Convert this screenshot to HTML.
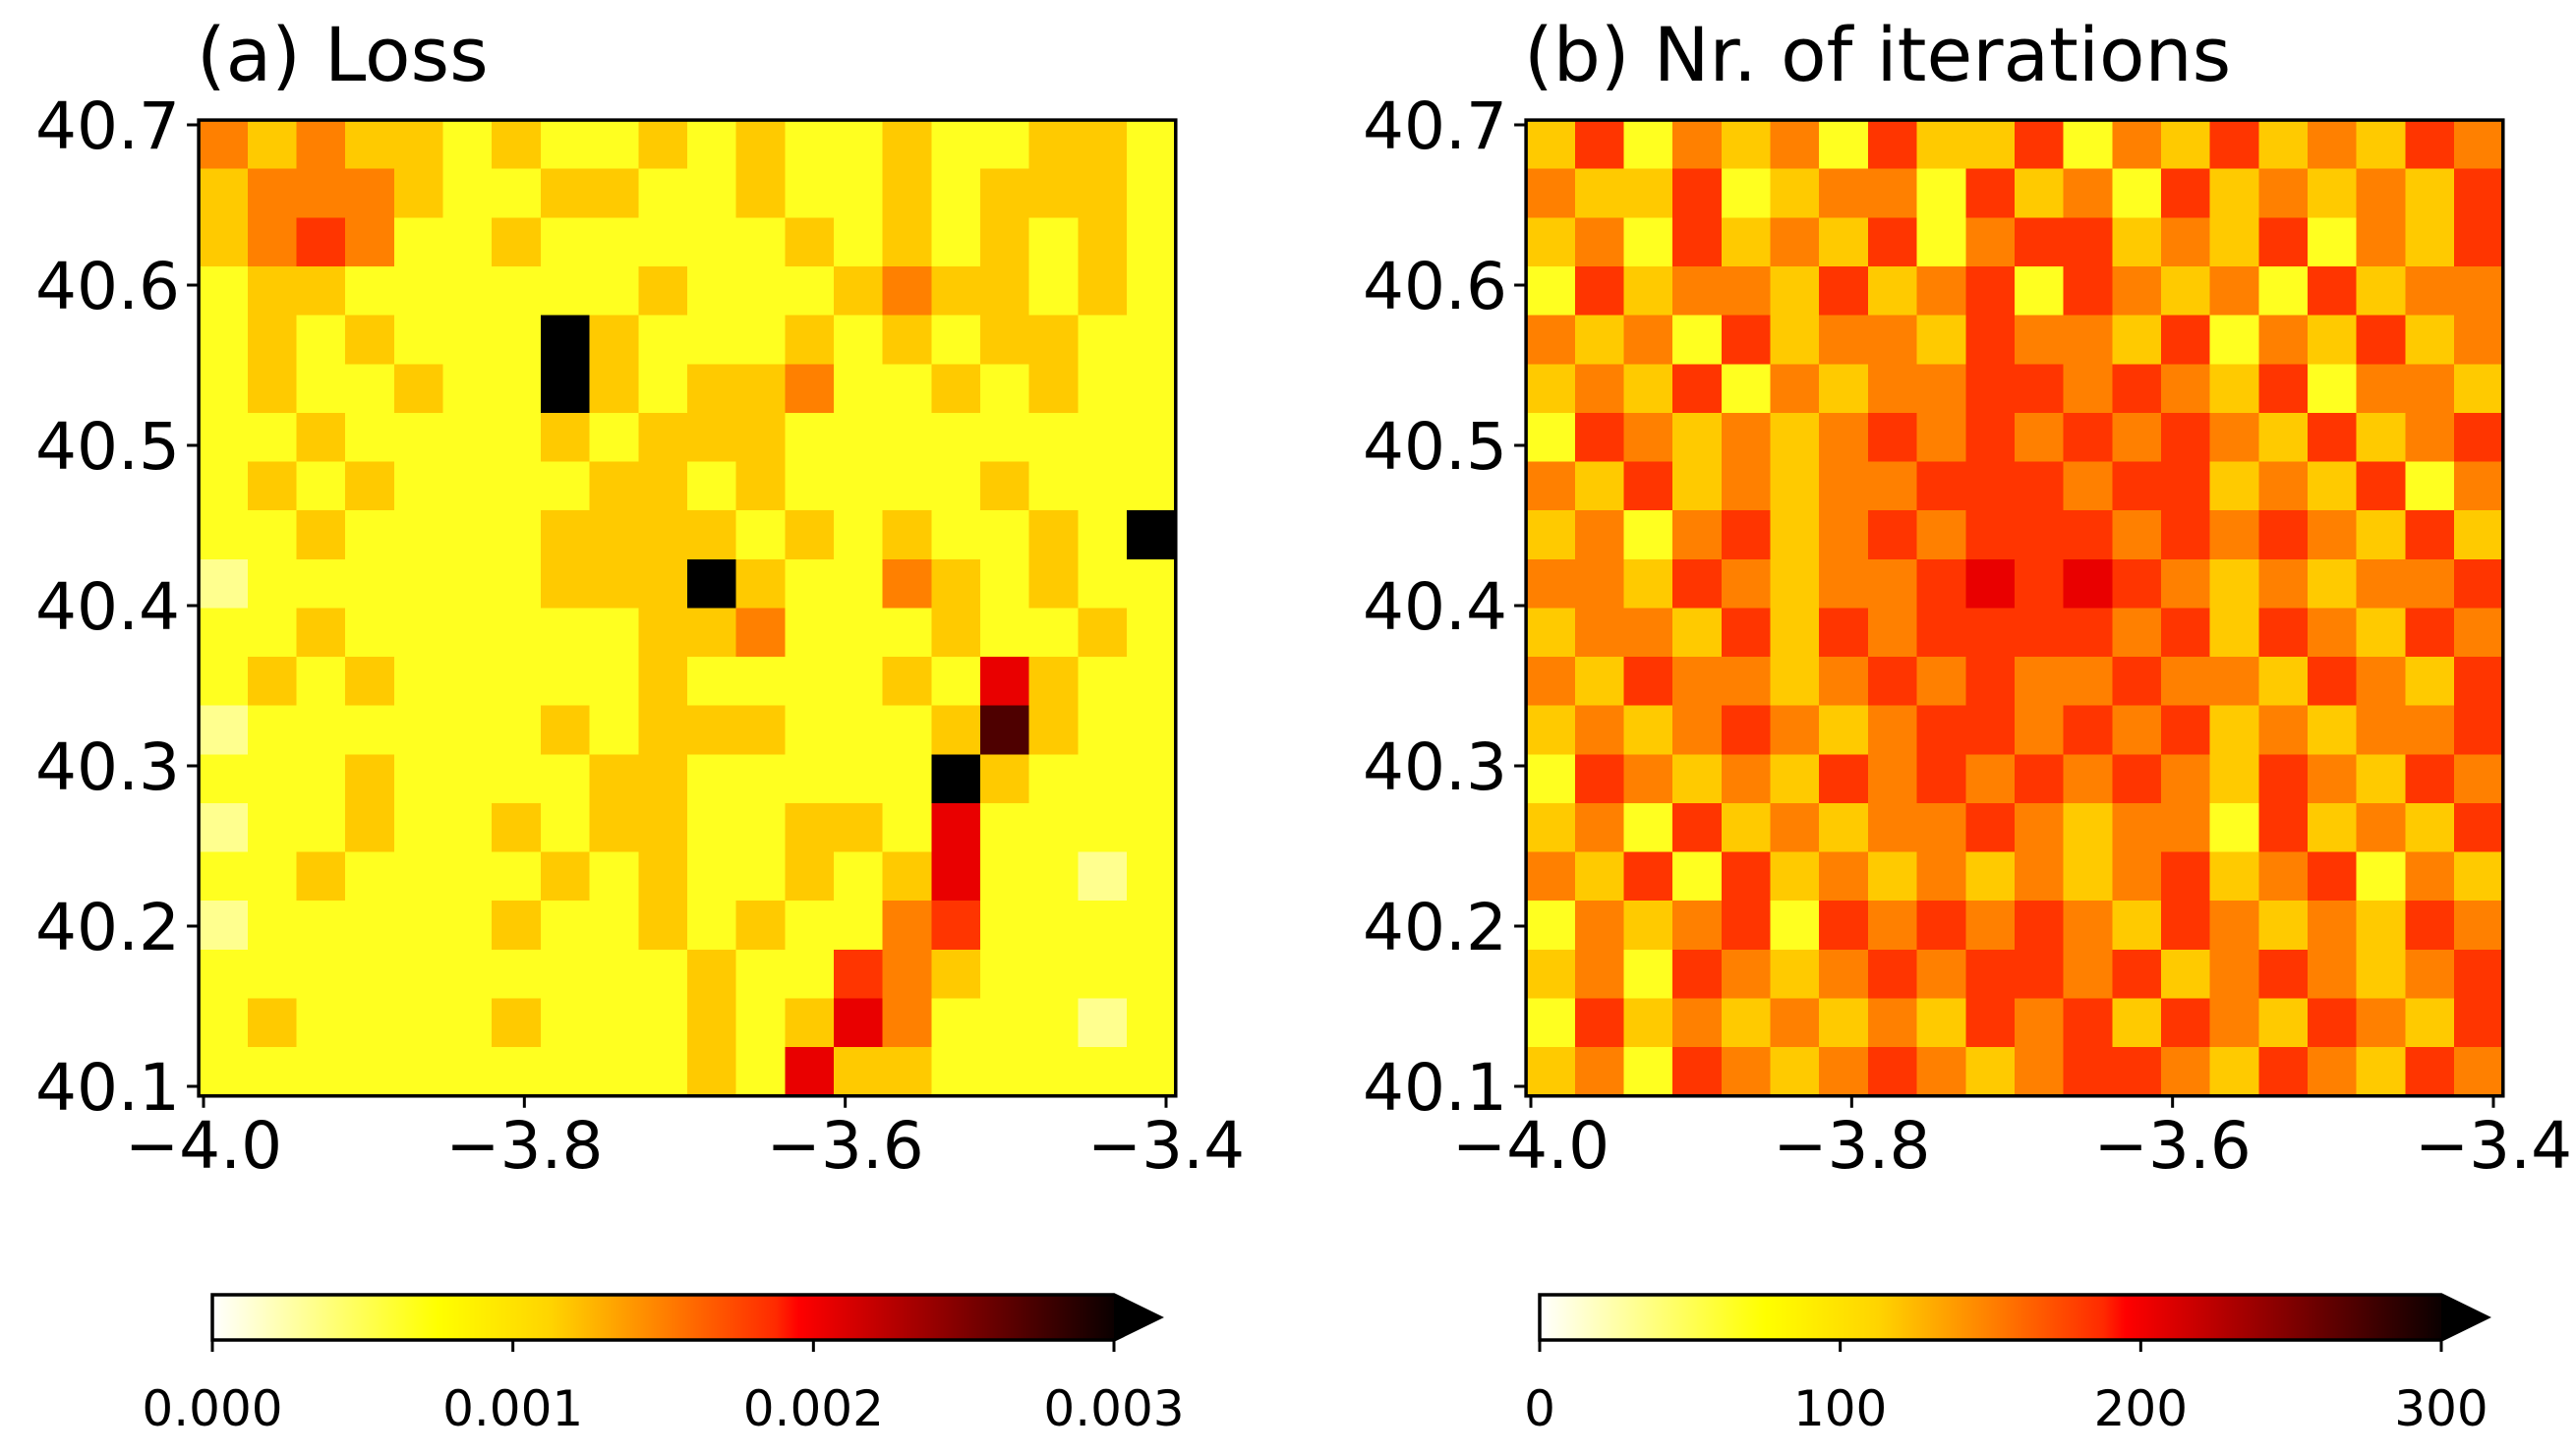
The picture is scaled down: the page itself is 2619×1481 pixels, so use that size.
<!DOCTYPE html>
<html><head><meta charset="utf-8"><style>
html,body{margin:0;padding:0;background:#fff;}
svg{display:block;font-family:"DejaVu Sans","Liberation Sans",sans-serif;}
</style></head><body>
<svg id="fig" width="2619" height="1481" viewBox="0 0 2619 1481" xmlns="http://www.w3.org/2000/svg">
<defs>
<linearGradient id="hotr" x1="0" x2="1" y1="0" y2="0">
<stop offset="0" stop-color="#ffffff"/><stop offset="0.25" stop-color="#ffff00"/><stop offset="0.375" stop-color="#ffd400"/><stop offset="0.5" stop-color="#ff8000"/><stop offset="0.625" stop-color="#ff2a00"/><stop offset="0.65" stop-color="#ff0000"/><stop offset="1" stop-color="#0b0000"/>
</linearGradient>
</defs>
</svg>
<script>
const lossRows=["43433232232322322332","34443223322322323332","34542232222232323232","23322222232223433232","23232229322232323322","23223229323342232322","22322223233322222222","23232222332322223222","22322223333232322329","12222223339322432322","22322222233422232232","23232222232222326322","12222223233322238322","22232222332222293222","12232232332233262222","22322223232232362212","12222232232322452222","22222222223225432222","23222232223236422212","22222222223263322222"];
const iterRows=["35243425335243534354","43352344253425343435","34253435245534352435","25344353452543425344","43425344354435243534","34352434455454352443","25434345454545435345","43534344555455343524","34245345455545454353","44354344565654343445","34435354555545354354","43544345454454435435","34345434554545343445","25434354545454354354","34253434454344253435","43525343434345345243","24345254545435434354","34254345455453454345","25343434354535435435","34254345434554354354"];
const xTicks=[-4.0,-3.8,-3.6,-3.4];
const yTicks=[40.1,40.2,40.3,40.4,40.5,40.6,40.7];
const lossCbTicks=[0,0.001,0.002,0.003];
const lossCbLabels=["0.000","0.001","0.002","0.003"];
const iterCbTicks=[0,100,200,300];
const iterCbLabels=["0","100","200","300"];
const titles=["(a) Loss","(b) Nr. of iterations"];

const NS="http://www.w3.org/2000/svg";
const svg=document.getElementById('fig');
function mk(tag,attrs,parent){const e=document.createElementNS(NS,tag);for(const k in attrs)e.setAttribute(k,attrs[k]);(parent||svg).appendChild(e);return e;}
function hot_r(t){t=Math.max(0,Math.min(1,t));const v=1-t;
 const r=Math.min(1,v/0.365),g=Math.max(0,Math.min(1,(v-0.365)/0.381)),b=Math.max(0,Math.min(1,(v-0.746)/0.254));
 return `rgb(${Math.round(r*255)},${Math.round(g*255)},${Math.round(b*255)})`;}

function panel(idx,rows,vmax,cbTicks,cbLabels){
 const dx=idx*1350;
 const xS=lon=>207+dx+(lon+4)/0.6*979;
 const yS=lat=>1105-(lat-40.1)/0.6*978;
 const g=mk('g',{});
 
 
 const t=mk('text',{x:200+dx,y:82,'font-size':76,fill:'#000'},g);t.textContent=titles[idx];
 
 const lon0=-4.003,lon1=-3.394,lat0=40.094,lat1=40.703;
 const n=rows.length,m=rows[0].length;
 const hm=mk('g',{'shape-rendering':'crispEdges'},g);
 
 for(let r=0;r<n;r++)for(let c=0;c<m;c++){
  const val=(+rows[r][c])/9*vmax;
  const la=lat1-(lat1-lat0)*r/n, lb=lat1-(lat1-lat0)*(r+1)/n;
  const lo=lon0+(lon1-lon0)*c/m, lp=lon0+(lon1-lon0)*(c+1)/m;
  const x0=xS(lo),x1=xS(lp),y0=yS(la),y1=yS(lb);
  const cell=mk('rect',{x:x0,y:y0,width:x1-x0+0.5,height:y1-y0+0.5,fill:hot_r(val/vmax)},hm);
  
  
 }
 const fr=mk('rect',{x:xS(lon0),y:yS(lat1),width:xS(lon1)-xS(lon0),height:yS(lat0)-yS(lat1),fill:'none',stroke:'#000','stroke-width':3.5},g);
 
 xTicks.forEach(v=>{const x=xS(v);mk('line',{x1:x,x2:x,y1:yS(lat0),y2:yS(lat0)+12,stroke:'#000','stroke-width':3},g);
  const tl=mk('text',{x:x,y:1188,'font-size':66,'text-anchor':'middle'},g);tl.textContent='\u2212'+Math.abs(v).toFixed(1);
  });
 yTicks.forEach(v=>{const y=yS(v);mk('line',{x1:xS(lon0),x2:xS(lon0)-12,y1:y,y2:y,stroke:'#000','stroke-width':3},g);
  const tl=mk('text',{x:183+dx,y:y+24,'font-size':66,'text-anchor':'end'},g);tl.textContent=v.toFixed(1);
  });
 const cx0=216+dx,cx1=1133+dx,cy0=1317,cy1=1363;
 const cs=v=>cx0+(v/vmax)*(cx1-cx0);
 const cb=mk('g',{},g);
 mk('rect',{x:cx0,y:cy0,width:cx1-cx0,height:cy1-cy0,fill:'url(#hotr)'},cb);
 mk('polygon',{points:`${cx1},${cy0} ${cx1+47},${(cy0+cy1)/2} ${cx1},${cy1}`,fill:'#000'},cb);
 mk('polygon',{points:`${cx0},${cy0} ${cx1},${cy0} ${cx1+47},${(cy0+cy1)/2} ${cx1},${cy1} ${cx0},${cy1}`,fill:'none',stroke:'#000','stroke-width':3.5},cb);
 cbTicks.forEach((v,i)=>{const x=cs(v);mk('line',{x1:x,x2:x,y1:cy1,y2:cy1+12,stroke:'#000','stroke-width':3},cb);
  const tl=mk('text',{x:x,y:1450,'font-size':50,'text-anchor':'middle'},cb);tl.textContent=cbLabels[i];
  });
}
panel(0,lossRows,0.003,lossCbTicks,lossCbLabels);
panel(1,iterRows,300,iterCbTicks,iterCbLabels);
</script>
</body></html>
